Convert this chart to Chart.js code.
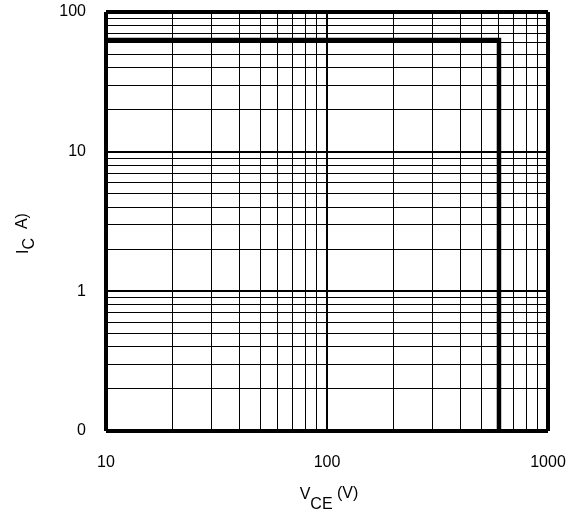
<!DOCTYPE html>
<html>
<head>
<meta charset="utf-8">
<script src="https://cdn.jsdelivr.net/npm/chart.js@4/dist/chart.umd.min.js"></script>
<style>
  html, body { margin: 0; padding: 0; background: #ffffff; }
  #wrap { width: 570px; height: 512px; position: relative; }
</style>
</head>
<body>
<div id="wrap"><canvas id="c" width="570" height="512"></canvas></div>
<script>
// ---- data ----
const vceTicks = [10, 20, 30, 40, 50, 60, 70, 80, 90, 100, 200, 300, 400, 500, 600, 700, 800, 900, 1000];
const icTicks = [0.1, 0.2, 0.3, 0.4, 0.5, 0.6, 0.7, 0.8, 0.9, 1, 2, 3, 4, 5, 6, 7, 8, 9, 10, 20, 30, 40, 50, 60, 70, 80, 90, 100];
const vceLabelValues = [10, 100, 1000];
const vceLabelTexts = ['10', '100', '1000'];
const icLabelValues = [0.1, 1, 10, 100];
const icLabelTexts = ['0', '1', '10', '100'];
const soaVce = [10, 600, 600];
const soaIc = [63, 63, 0.1];

const FONT = '"Liberation Sans", Arial, Helvetica, sans-serif';
const isDecade = v => Math.abs(Math.log10(v) - Math.round(Math.log10(v))) < 1e-9;
const near = (a, b) => Math.abs(a - b) / b < 1e-6;

function labelFor(values, texts, v) {
  for (let i = 0; i < values.length; i++) if (near(v, values[i])) return texts[i];
  return '';
}

function gridWidth(min, max) {
  return ctx => {
    const v = ctx.tick ? ctx.tick.value : null;
    if (v == null) return 1;
    if (near(v, min) || near(v, max)) return 4;
    return isDecade(v) ? 2 : 1;
  };
}

function zeroPad(s) {
  s.paddingTop = 0; s.paddingBottom = 0; s.paddingLeft = 0; s.paddingRight = 0;
}

const titlePlugin = {
  id: 'axisTitles',
  afterDraw(chart) {
    const c = chart.ctx;
    const xs = chart.scales.x, ys = chart.scales.y;
    c.save();
    c.fillStyle = '#000';
    c.textBaseline = 'alphabetic';
    const mainF = '16px ' + FONT, subF = '16px ' + FONT;
    // X title: V_CE (V)
    c.font = mainF; const wV = c.measureText('V').width;
    c.font = subF; const wCE = c.measureText('CE').width;
    c.font = mainF; const wU = c.measureText(' (V)').width;
    const total = wV + wCE + wU;
    let x0 = (xs.left + xs.right) / 2 - total / 2 + 2;
    const base = 499;
    c.textAlign = 'left';
    c.font = mainF; c.fillText('V', x0, base);
    c.font = subF; c.fillText('CE', x0 + wV, base + 10);
    c.font = mainF; c.fillText(' (V)', x0 + wV + wCE, base - 1);
    // Y title: I_C A)
    c.translate(28, (ys.top + ys.bottom) / 2 + 12);
    c.rotate(-Math.PI / 2);
    c.font = mainF; const wI = c.measureText('I').width;
    c.font = subF; const wC = c.measureText('C').width;
    c.font = mainF; const wA = c.measureText('  A)').width;
    let y0 = -(wI + wC + wA) / 2;
    c.font = mainF; c.fillText('I', y0, 0);
    c.font = subF; c.fillText('C', y0 + wI, 6);
    c.font = mainF; c.fillText('  A)', y0 + wI + wC, -1);
    c.restore();
  }
};

new Chart(document.getElementById('c'), {
  type: 'scatter',
  data: {
    datasets: [{
      data: soaVce.map((v, i) => ({ x: v, y: soaIc[i] })),
      showLine: true,
      borderColor: '#000',
      borderWidth: 4.5,
      pointRadius: 0,
      fill: false,
      tension: 0,
      clip: false
    }]
  },
  options: {
    responsive: false,
    animation: false,
    devicePixelRatio: 1,
    layout: { padding: { left: 0, right: 22, top: 12, bottom: 0 } },
    plugins: { legend: { display: false }, tooltip: { enabled: false }, title: { display: false } },
    scales: {
      x: {
        type: 'logarithmic',
        min: 10, max: 1000,
        afterBuildTicks: s => { s.ticks = vceTicks.map(v => ({ value: v, major: isDecade(v) })); },
        afterFit: s => { s.height = 81; zeroPad(s); },
        border: { display: false },
        grid: { color: '#000', lineWidth: gridWidth(10, 1000), drawTicks: false },
        ticks: {
          autoSkip: false, maxRotation: 0, padding: 22, color: '#000',
          font: { family: FONT, size: 16 },
          callback: v => labelFor(vceLabelValues, vceLabelTexts, v)
        }
      },
      y: {
        type: 'logarithmic',
        min: 0.1, max: 100,
        afterBuildTicks: s => { s.ticks = icTicks.map(v => ({ value: v, major: isDecade(v) })); },
        afterFit: s => { s.width = 106; zeroPad(s); },
        border: { display: false },
        grid: { color: '#000', lineWidth: gridWidth(0.1, 100), drawTicks: false },
        ticks: {
          autoSkip: false, padding: 20, color: '#000',
          font: { family: FONT, size: 16 },
          callback: v => labelFor(icLabelValues, icLabelTexts, v)
        }
      }
    }
  },
  plugins: [titlePlugin]
});
</script>
</body>
</html>
